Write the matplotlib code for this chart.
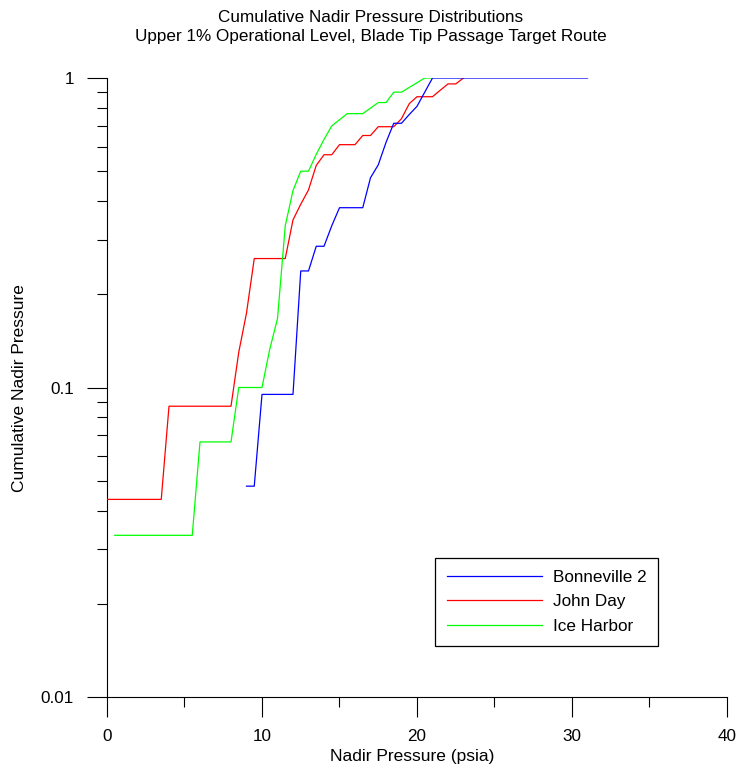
import matplotlib
matplotlib.use("Agg")
import matplotlib.pyplot as plt
from matplotlib.ticker import FixedLocator, FixedFormatter, LogLocator, NullFormatter, MultipleLocator

plt.rcParams['font.family'] = ['Liberation Sans', 'DejaVu Sans']

# values
bonneville_x = [9.0, 9.5, 10.0, 12.0, 12.5, 13.0, 13.5, 14.0, 14.5, 15.0, 16.5, 17.0,
                17.5, 18.0, 18.5, 19.0, 19.5, 20.0, 21.0, 31.0]
bonneville_y = [0.048, 0.048, 0.095, 0.095, 0.238, 0.238, 0.286, 0.286, 0.333, 0.381, 0.381, 0.476,
                0.524, 0.619, 0.714, 0.714, 0.762, 0.810, 1.0, 1.0]

johnday_x = [0.0, 3.5, 4.0, 8.0, 8.5, 9.0, 9.5, 11.5, 12.0, 12.5, 13.0, 13.5, 14.0, 14.5,
             15.0, 16.0, 16.5, 17.0, 17.5, 18.5, 19.0, 19.5, 20.0, 21.0, 21.5, 22.0, 22.5, 23.0]
johnday_y = [0.0435, 0.0435, 0.087, 0.087, 0.130, 0.174, 0.261, 0.261, 0.348, 0.391, 0.435, 0.522, 0.565, 0.565,
             0.609, 0.609, 0.652, 0.652, 0.696, 0.696, 0.739, 0.826, 0.870, 0.870, 0.913, 0.957, 0.957, 1.0]

iceharbor_x = [0.5, 5.5, 6.0, 8.0, 8.5, 10.0, 10.5, 11.0, 11.5, 12.0, 12.5, 13.0, 13.5, 14.0,
               14.5, 15.0, 15.5, 16.5, 17.5, 18.0, 18.5, 19.0, 20.5, 21.0]
iceharbor_y = [0.0333, 0.0333, 0.0667, 0.0667, 0.100, 0.100, 0.133, 0.167, 0.333, 0.433, 0.500, 0.500, 0.567, 0.633,
               0.700, 0.733, 0.767, 0.767, 0.833, 0.833, 0.900, 0.900, 1.0, 1.0]

series = [
    (bonneville_x, bonneville_y, 'Bonneville 2', '#0000ff', 4),
    (johnday_x, johnday_y, 'John Day', '#ff0000', 3),
    (iceharbor_x, iceharbor_y, 'Ice Harbor', '#00ff00', 3),
]

fig = plt.figure(figsize=(7.41, 7.70), dpi=100)
ax = fig.add_axes([0.1444, 0.0948, 0.8367, 0.8039])

for xs, ys, label, color, z in series:
    ax.plot(xs, ys, color=color, lw=0.9, label=label, zorder=z)

ax.set_yscale('log')
ax.set_xlim(0, 40)
ax.set_ylim(0.01, 1)

ax.yaxis.set_major_locator(FixedLocator([0.01, 0.1, 1]))
ax.yaxis.set_major_formatter(FixedFormatter(['0.01', '0.1', '1']))
ax.yaxis.set_minor_locator(LogLocator(base=10, subs=range(2, 10)))
ax.yaxis.set_minor_formatter(NullFormatter())
ax.xaxis.set_major_locator(MultipleLocator(10))
ax.xaxis.set_minor_locator(MultipleLocator(5))

ax.spines['top'].set_visible(False)
ax.spines['right'].set_visible(False)
ax.tick_params(which='major', length=14.4, width=0.8, labelsize=12.3)
ax.tick_params(which='minor', length=7.2, width=0.8)
ax.tick_params(axis='x', which='major', pad=8.5)
ax.tick_params(axis='y', which='major', pad=9.5)

fig.text(0.5, 1 - 17 / 770, 'Cumulative Nadir Pressure Distributions',
         ha='center', va='center', fontsize=12.3)
fig.text(0.5, 1 - 36 / 770, 'Upper 1% Operational Level, Blade Tip Passage Target Route',
         ha='center', va='center', fontsize=12.3)
fig.text(412 / 741, 1 - 757 / 770, 'Nadir Pressure (psia)', ha='center', va='center', fontsize=12.5)
fig.text(20 / 741, 1 - 388 / 770, 'Cumulative Nadir Pressure', ha='center', va='center',
         rotation=90, fontsize=12.5)

leg = ax.legend(loc='upper left', bbox_to_anchor=(435 / 741, 1 - 558 / 770),
                bbox_transform=fig.transFigure, fontsize=12.3, frameon=True, fancybox=False,
                framealpha=1, edgecolor='black', borderaxespad=0, handlelength=5.55,
                handletextpad=0.65, borderpad=0.7, labelspacing=0.55)
leg.get_frame().set_linewidth(0.9)

fig.savefig('out.png', dpi=100)
